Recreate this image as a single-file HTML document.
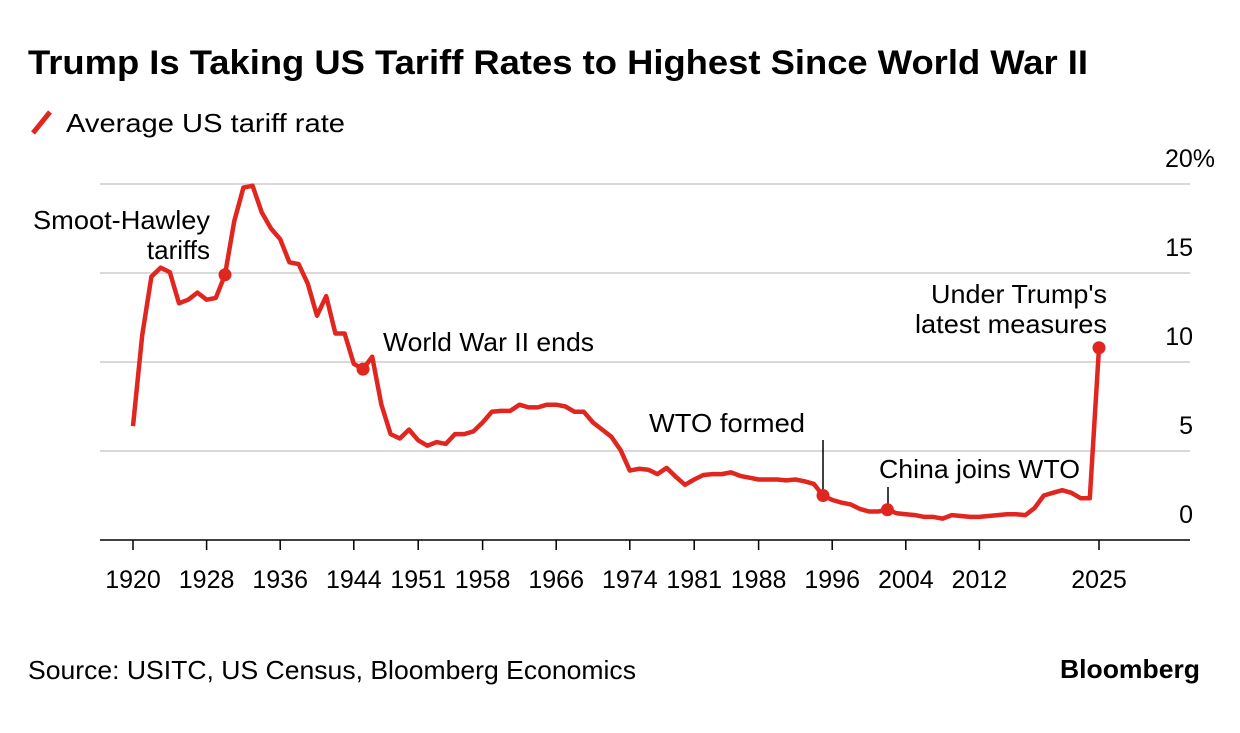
<!DOCTYPE html>
<html><head><meta charset="utf-8"><style>
body{margin:0;background:#fff;font-family:"Liberation Sans",sans-serif;}
svg text{font-family:"Liberation Sans",sans-serif;fill:#000;}
</style></head><body>
<svg width="1240" height="728" xmlns="http://www.w3.org/2000/svg">
<text x="28" y="74" font-size="34" font-weight="bold" textLength="1060" lengthAdjust="spacingAndGlyphs">Trump Is Taking US Tariff Rates to Highest Since World War II</text>
<line x1="33" y1="133" x2="50" y2="112" stroke="#e0261f" stroke-width="5"/>
<text x="66" y="132" font-size="26" textLength="279" lengthAdjust="spacingAndGlyphs">Average US tariff rate</text>
<g id="grid"></g><g id="xaxis"></g><g id="ylabels"></g>
<g id="annots" font-size="26">
<text x="210" y="229" text-anchor="end" textLength="177" lengthAdjust="spacingAndGlyphs">Smoot-Hawley</text>
<text x="210" y="259" text-anchor="end">tariffs</text>
<text x="383" y="351" textLength="211" lengthAdjust="spacingAndGlyphs">World War II ends</text>
<text x="805" y="432" text-anchor="end" textLength="156" lengthAdjust="spacingAndGlyphs">WTO formed</text>
<text x="879" y="478" textLength="201" lengthAdjust="spacingAndGlyphs">China joins WTO</text>
<text x="1107" y="303" text-anchor="end" textLength="176" lengthAdjust="spacingAndGlyphs">Under Trump's</text>
<text x="1107" y="333" text-anchor="end" textLength="192" lengthAdjust="spacingAndGlyphs">latest measures</text>
<line x1="823" y1="440" x2="823" y2="490" stroke="#000" stroke-width="1.5"/>
<line x1="888" y1="487" x2="888" y2="505" stroke="#000" stroke-width="1.5"/>
</g>
<g id="series"></g>
<text x="28" y="679" font-size="26" textLength="608" lengthAdjust="spacingAndGlyphs">Source: USITC, US Census, Bloomberg Economics</text>
<text x="1200" y="678" font-size="26" font-weight="bold" text-anchor="end" textLength="140" lengthAdjust="spacingAndGlyphs">Bloomberg</text>
</svg>
<script>
const years=[];for(let y=1920;y<=2025;y++)years.push(y);
const tariffRates=[6.4,11.5,14.8,15.3,15.05,13.3,13.5,13.9,13.5,13.6,14.9,17.9,19.8,19.9,18.4,17.5,16.9,15.6,15.5,14.4,12.6,13.7,11.6,11.6,9.9,9.6,10.3,7.6,5.95,5.7,6.2,5.6,5.3,5.5,5.4,5.95,5.95,6.1,6.6,7.2,7.25,7.25,7.6,7.45,7.45,7.6,7.6,7.5,7.2,7.2,6.6,6.2,5.8,5.05,3.9,4.0,3.95,3.7,4.05,3.55,3.1,3.4,3.65,3.7,3.7,3.8,3.6,3.5,3.4,3.4,3.4,3.35,3.4,3.3,3.15,2.5,2.25,2.1,2.0,1.75,1.6,1.6,1.7,1.5,1.45,1.4,1.3,1.3,1.2,1.4,1.35,1.3,1.3,1.35,1.4,1.45,1.45,1.4,1.8,2.5,2.65,2.8,2.65,2.35,2.35,10.8];
const xTickYears=[1920,1928,1936,1944,1951,1958,1966,1974,1981,1988,1996,2004,2012,2025];
const yTicks=[0,5,10,15,20];
const markerYears=[1930,1945,1995,2002,2025];
const NS="http://www.w3.org/2000/svg";
const xs=y=>133+(y-1920)*(966/105);
const ys=v=>540-v*17.8;
function mk(tag,attrs,parent){const e=document.createElementNS(NS,tag);for(const k in attrs)e.setAttribute(k,attrs[k]);document.getElementById(parent).appendChild(e);return e;}
yTicks.forEach(t=>{
 if(t>0){const g=mk('line',{x1:100,x2:1190,y1:ys(t),y2:ys(t),stroke:'#d9d9d9','stroke-width':2},'grid');
 
 }
 const l=mk('text',{x:t===20?1215:1193,y:ys(t)-17,'font-size':25,'text-anchor':'end'},'ylabels');
 l.textContent=t===20?'20%':String(t);
 
 
});
const ax=mk('line',{x1:100,x2:1190,y1:540,y2:540,stroke:'#000','stroke-width':1.5},'xaxis');


xTickYears.forEach(y=>{
 const t=mk('line',{x1:xs(y),x2:xs(y),y1:540,y2:550,stroke:'#000','stroke-width':1.5},'xaxis');
 
 
 const l=mk('text',{x:xs(y),y:588,'font-size':25,'text-anchor':'middle'},'xaxis');
 l.textContent=y;
 
 
});
const d=years.map((y,i)=>(i?'L':'M')+xs(y).toFixed(1)+','+ys(tariffRates[i]).toFixed(1)).join('');
const p=mk('path',{d:d,fill:'none',stroke:'#e0261f','stroke-width':4.5,'stroke-linejoin':'round'},'series');


markerYears.forEach(y=>{
 const v=tariffRates[years.indexOf(y)];
 const c=mk('circle',{cx:xs(y),cy:ys(v),r:6.5,fill:'#e0261f'},'series');
 
 
});
</script>
</body></html>
